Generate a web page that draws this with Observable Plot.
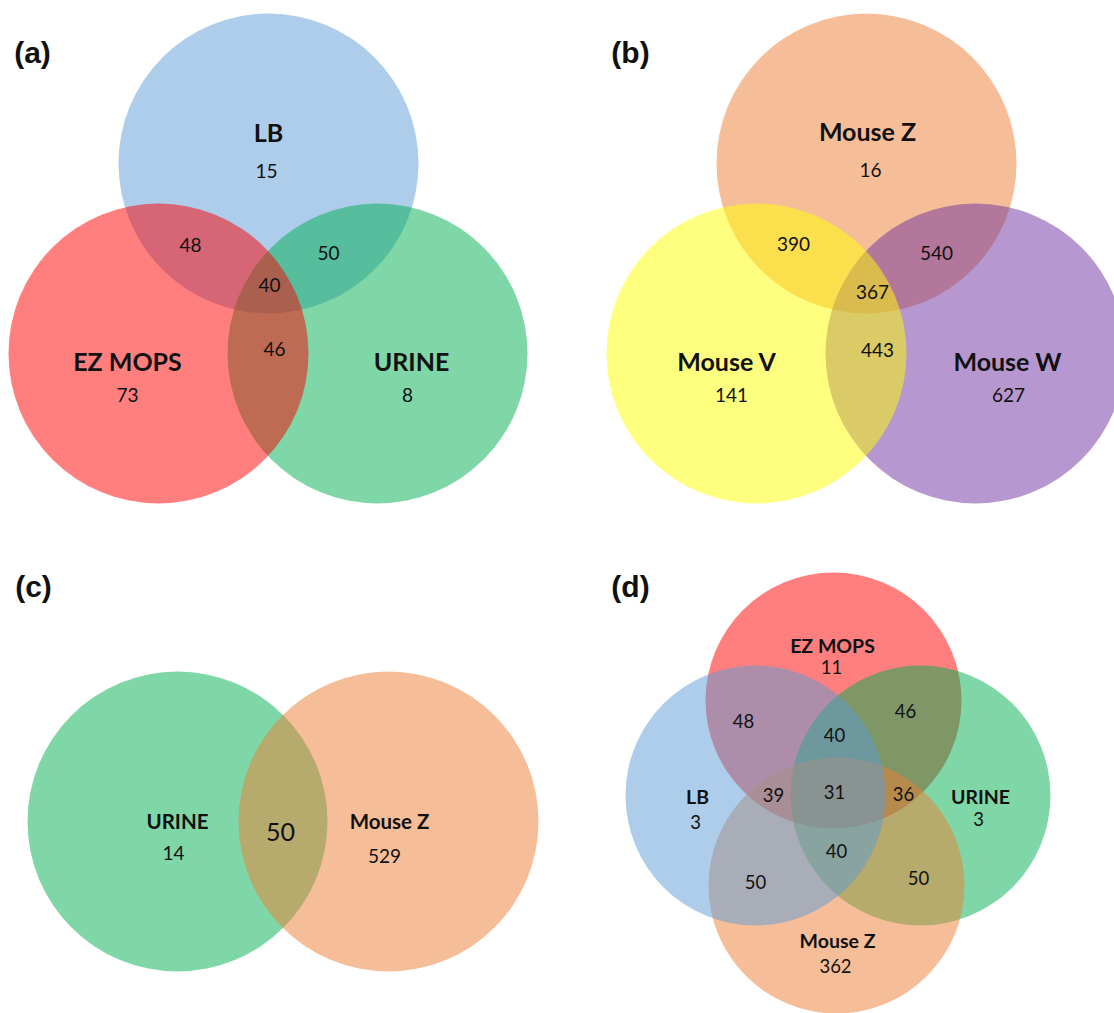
<!DOCTYPE html>
<html>
<head>
<meta charset="utf-8">
<script src="https://cdn.jsdelivr.net/npm/d3@7"></script>
<script src="https://cdn.jsdelivr.net/npm/@observablehq/plot@0.6"></script>
<style>
  html, body { margin: 0; padding: 0; background: #fff; }
  #chart { width: 1114px; height: 1013px; }
</style>
</head>
<body>
<div id="chart"></div>
<script>
// ---- Data: set names, colours and region counts per panel ----
const panelLetters = ["(a)", "(b)", "(c)", "(d)"];

// Panel (a)
const setsA = ["LB", "URINE", "EZ MOPS"];
const colorsA = ["#5B9BD5", "#00B050", "#FF0000"];
const countsA = [15, 48, 50, 40, 46, 73, 8];

// Panel (b)
const setsB = ["Mouse Z", "Mouse W", "Mouse V"];
const colorsB = ["#ED7D31", "#7030A0", "#FFFF00"];
const countsB = [16, 390, 540, 367, 443, 141, 627];

// Panel (c)
const setsC = ["URINE", "Mouse Z"];
const colorsC = ["#00B050", "#ED7D31"];
const countsC = [14, 50, 529];

// Panel (d)
const setsD = ["EZ MOPS", "URINE", "Mouse Z", "LB"];
const colorsD = ["#FF0000", "#00B050", "#ED7D31", "#5B9BD5"];
const countsD = [11, 48, 46, 40, 3, 39, 31, 36, 3, 40, 50, 50, 362];

// ---- Layout (figure pixel space) ----
const letterX = [32, 630, 33, 630];
const letterY = [53, 53, 587, 587];

const circA = {x: [268, 377, 158], y: [163, 353, 353], r: [150, 150, 150]};
const circB = {x: [866, 975, 756], y: [163, 353, 353], r: [150, 150, 150]};
const circC = {x: [177, 388], y: [821, 821], r: [150, 150]};
const circD = {x: [833, 920, 836, 755], y: [700, 795, 885, 795], r: [128, 130, 128, 130]};

const nameA = {x: [268, 411, 127], y: [133, 362, 362]};
const nameB = {x: [867, 1007, 726], y: [132, 362, 362]};
const nameC = {x: [177, 389], y: [822, 822]};
const nameD = {x: [832, 980, 837, 697], y: [646, 797, 941, 797]};

const cntA = {x: [266, 190, 328, 269, 274, 127, 407], y: [171, 245, 253, 285, 349, 395, 395]};
const cntB = {x: [870, 793, 936, 872, 877, 731, 1008], y: [170, 244, 253, 292, 350, 395, 395]};
const cntC = {x: [173, 280, 384], y: [853, 832, 856]};
const cntD = {x: [831, 743, 905, 834, 695, 773, 834, 903, 978, 836, 755, 918, 835],
              y: [668, 722, 712, 736, 823, 796, 793, 795, 820, 852, 883, 879, 967]};

// ---- Build tables ----
function circles(sets, colors, c) {
  return sets.map((s, i) => ({set: s, color: colors[i], x: c.x[i], y: c.y[i], r: c.r[i]}));
}
function names(sets, p, size) {
  return sets.map((s, i) => ({text: s, x: p.x[i], y: p.y[i], size}));
}
function counts(vals, p, sizes) {
  return vals.map((v, i) => ({text: String(v), x: p.x[i], y: p.y[i], size: sizes[i]}));
}

const circleData = [
  ...circles(setsA, colorsA, circA),
  ...circles(setsB, colorsB, circB),
  ...circles(setsC, colorsC, circC),
  ...circles(setsD, colorsD, circD)
];
const nameData = [
  ...names(setsA, nameA, 25),
  ...names(setsB, nameB, 25),
  ...names(setsC, nameC, 20.5),
  ...names(setsD, nameD, 19.5)
];
const countData = [
  ...counts(countsA, cntA, countsA.map(() => 19)),
  ...counts(countsB, cntB, countsB.map(() => 19)),
  ...counts(countsC, cntC, [19, 25, 19]),
  ...counts(countsD, cntD, countsD.map(() => 18.5))
];
const letterData = panelLetters.map((t, i) => ({text: t, x: letterX[i], y: letterY[i]}));

const chart = Plot.plot({
  width: 1114,
  height: 1013,
  margin: 0,
  x: {domain: [0, 1114], range: [0, 1114], axis: null},
  y: {domain: [0, 1013], range: [0, 1013], axis: null},
  r: {type: "identity"},
  color: {type: "identity"},
  style: {background: "#ffffff"},
  marks: [
    Plot.dot(circleData, {x: "x", y: "y", r: "r", fill: "color", fillOpacity: 0.5, stroke: "none", sort: null}),
    Plot.text(letterData, {x: "x", y: "y", text: "text", fontSize: 30, fontWeight: "bold",
      fontFamily: "Liberation Sans, Arial, sans-serif", fill: "#111", textAnchor: "middle", lineAnchor: "middle"}),
    Plot.text(nameData, {x: "x", y: "y", text: "text", fontSize: "size", fontWeight: "bold",
      fontFamily: "Lato, Open Sans, sans-serif", fill: "#111", textAnchor: "middle", lineAnchor: "middle"}),
    Plot.text(countData, {x: "x", y: "y", text: "text", fontSize: "size",
      fontFamily: "Lato, Open Sans, sans-serif", fill: "#111", textAnchor: "middle", lineAnchor: "middle"})
  ]
});
document.getElementById("chart").appendChild(chart);
</script>
</body>
</html>
